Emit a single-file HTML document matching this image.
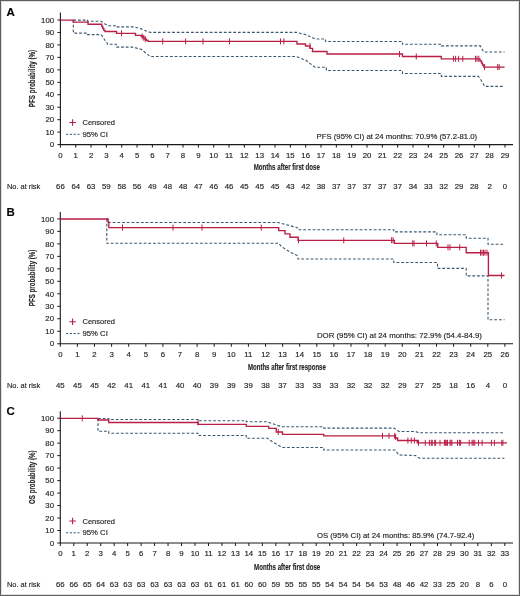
<!DOCTYPE html><html><head><meta charset="utf-8"><style>html,body{margin:0;padding:0;background:#fff;}svg{display:block;font-family:"Liberation Sans", sans-serif;will-change:transform;} text{stroke:#2a2a2a;stroke-width:.16px;}</style></head><body>
<svg width="520" height="596" viewBox="0 0 520 596">
<rect x="0" y="0" width="520" height="596" fill="#fff"/>
<text x="6.6" y="15.8" font-size="10.4" text-anchor="start" font-weight="bold" fill="#000" textLength="8.3" lengthAdjust="spacingAndGlyphs">A</text>
<path d="M60.4 12.4V144.6H513" fill="none" stroke="#1a1a1a" stroke-width="1.1"/>
<text x="54.1" y="147.3" font-size="7.8" text-anchor="end" font-weight="normal" fill="#262626">0</text>
<text x="54.1" y="134.84" font-size="7.8" text-anchor="end" font-weight="normal" fill="#262626">10</text>
<text x="54.1" y="122.38" font-size="7.8" text-anchor="end" font-weight="normal" fill="#262626">20</text>
<text x="54.1" y="109.92" font-size="7.8" text-anchor="end" font-weight="normal" fill="#262626">30</text>
<text x="54.1" y="97.46" font-size="7.8" text-anchor="end" font-weight="normal" fill="#262626">40</text>
<text x="54.1" y="85" font-size="7.8" text-anchor="end" font-weight="normal" fill="#262626">50</text>
<text x="54.1" y="72.54" font-size="7.8" text-anchor="end" font-weight="normal" fill="#262626">60</text>
<text x="54.1" y="60.08" font-size="7.8" text-anchor="end" font-weight="normal" fill="#262626">70</text>
<text x="54.1" y="47.62" font-size="7.8" text-anchor="end" font-weight="normal" fill="#262626">80</text>
<text x="54.1" y="35.16" font-size="7.8" text-anchor="end" font-weight="normal" fill="#262626">90</text>
<text x="54.1" y="22.7" font-size="7.8" text-anchor="end" font-weight="normal" fill="#262626">100</text>
<text x="60.4" y="157.5" font-size="7.8" text-anchor="middle" font-weight="normal" fill="#262626">0</text>
<text x="60.4" y="189.1" font-size="7.8" text-anchor="middle" font-weight="normal" fill="#262626">66</text>
<text x="75.73" y="157.5" font-size="7.8" text-anchor="middle" font-weight="normal" fill="#262626">1</text>
<text x="75.73" y="189.1" font-size="7.8" text-anchor="middle" font-weight="normal" fill="#262626">64</text>
<text x="91.06" y="157.5" font-size="7.8" text-anchor="middle" font-weight="normal" fill="#262626">2</text>
<text x="91.06" y="189.1" font-size="7.8" text-anchor="middle" font-weight="normal" fill="#262626">63</text>
<text x="106.39" y="157.5" font-size="7.8" text-anchor="middle" font-weight="normal" fill="#262626">3</text>
<text x="106.39" y="189.1" font-size="7.8" text-anchor="middle" font-weight="normal" fill="#262626">59</text>
<text x="121.72" y="157.5" font-size="7.8" text-anchor="middle" font-weight="normal" fill="#262626">4</text>
<text x="121.72" y="189.1" font-size="7.8" text-anchor="middle" font-weight="normal" fill="#262626">58</text>
<text x="137.05" y="157.5" font-size="7.8" text-anchor="middle" font-weight="normal" fill="#262626">5</text>
<text x="137.05" y="189.1" font-size="7.8" text-anchor="middle" font-weight="normal" fill="#262626">56</text>
<text x="152.38" y="157.5" font-size="7.8" text-anchor="middle" font-weight="normal" fill="#262626">6</text>
<text x="152.38" y="189.1" font-size="7.8" text-anchor="middle" font-weight="normal" fill="#262626">49</text>
<text x="167.71" y="157.5" font-size="7.8" text-anchor="middle" font-weight="normal" fill="#262626">7</text>
<text x="167.71" y="189.1" font-size="7.8" text-anchor="middle" font-weight="normal" fill="#262626">48</text>
<text x="183.04" y="157.5" font-size="7.8" text-anchor="middle" font-weight="normal" fill="#262626">8</text>
<text x="183.04" y="189.1" font-size="7.8" text-anchor="middle" font-weight="normal" fill="#262626">48</text>
<text x="198.37" y="157.5" font-size="7.8" text-anchor="middle" font-weight="normal" fill="#262626">9</text>
<text x="198.37" y="189.1" font-size="7.8" text-anchor="middle" font-weight="normal" fill="#262626">47</text>
<text x="213.7" y="157.5" font-size="7.8" text-anchor="middle" font-weight="normal" fill="#262626">10</text>
<text x="213.7" y="189.1" font-size="7.8" text-anchor="middle" font-weight="normal" fill="#262626">46</text>
<text x="229.03" y="157.5" font-size="7.8" text-anchor="middle" font-weight="normal" fill="#262626">11</text>
<text x="229.03" y="189.1" font-size="7.8" text-anchor="middle" font-weight="normal" fill="#262626">46</text>
<text x="244.36" y="157.5" font-size="7.8" text-anchor="middle" font-weight="normal" fill="#262626">12</text>
<text x="244.36" y="189.1" font-size="7.8" text-anchor="middle" font-weight="normal" fill="#262626">45</text>
<text x="259.69" y="157.5" font-size="7.8" text-anchor="middle" font-weight="normal" fill="#262626">13</text>
<text x="259.69" y="189.1" font-size="7.8" text-anchor="middle" font-weight="normal" fill="#262626">45</text>
<text x="275.02" y="157.5" font-size="7.8" text-anchor="middle" font-weight="normal" fill="#262626">14</text>
<text x="275.02" y="189.1" font-size="7.8" text-anchor="middle" font-weight="normal" fill="#262626">45</text>
<text x="290.35" y="157.5" font-size="7.8" text-anchor="middle" font-weight="normal" fill="#262626">15</text>
<text x="290.35" y="189.1" font-size="7.8" text-anchor="middle" font-weight="normal" fill="#262626">43</text>
<text x="305.68" y="157.5" font-size="7.8" text-anchor="middle" font-weight="normal" fill="#262626">16</text>
<text x="305.68" y="189.1" font-size="7.8" text-anchor="middle" font-weight="normal" fill="#262626">42</text>
<text x="321.01" y="157.5" font-size="7.8" text-anchor="middle" font-weight="normal" fill="#262626">17</text>
<text x="321.01" y="189.1" font-size="7.8" text-anchor="middle" font-weight="normal" fill="#262626">38</text>
<text x="336.34" y="157.5" font-size="7.8" text-anchor="middle" font-weight="normal" fill="#262626">18</text>
<text x="336.34" y="189.1" font-size="7.8" text-anchor="middle" font-weight="normal" fill="#262626">37</text>
<text x="351.67" y="157.5" font-size="7.8" text-anchor="middle" font-weight="normal" fill="#262626">19</text>
<text x="351.67" y="189.1" font-size="7.8" text-anchor="middle" font-weight="normal" fill="#262626">37</text>
<text x="367" y="157.5" font-size="7.8" text-anchor="middle" font-weight="normal" fill="#262626">20</text>
<text x="367" y="189.1" font-size="7.8" text-anchor="middle" font-weight="normal" fill="#262626">37</text>
<text x="382.33" y="157.5" font-size="7.8" text-anchor="middle" font-weight="normal" fill="#262626">21</text>
<text x="382.33" y="189.1" font-size="7.8" text-anchor="middle" font-weight="normal" fill="#262626">37</text>
<text x="397.66" y="157.5" font-size="7.8" text-anchor="middle" font-weight="normal" fill="#262626">22</text>
<text x="397.66" y="189.1" font-size="7.8" text-anchor="middle" font-weight="normal" fill="#262626">37</text>
<text x="412.99" y="157.5" font-size="7.8" text-anchor="middle" font-weight="normal" fill="#262626">23</text>
<text x="412.99" y="189.1" font-size="7.8" text-anchor="middle" font-weight="normal" fill="#262626">34</text>
<text x="428.32" y="157.5" font-size="7.8" text-anchor="middle" font-weight="normal" fill="#262626">24</text>
<text x="428.32" y="189.1" font-size="7.8" text-anchor="middle" font-weight="normal" fill="#262626">33</text>
<text x="443.65" y="157.5" font-size="7.8" text-anchor="middle" font-weight="normal" fill="#262626">25</text>
<text x="443.65" y="189.1" font-size="7.8" text-anchor="middle" font-weight="normal" fill="#262626">32</text>
<text x="458.98" y="157.5" font-size="7.8" text-anchor="middle" font-weight="normal" fill="#262626">26</text>
<text x="458.98" y="189.1" font-size="7.8" text-anchor="middle" font-weight="normal" fill="#262626">29</text>
<text x="474.31" y="157.5" font-size="7.8" text-anchor="middle" font-weight="normal" fill="#262626">27</text>
<text x="474.31" y="189.1" font-size="7.8" text-anchor="middle" font-weight="normal" fill="#262626">28</text>
<text x="489.64" y="157.5" font-size="7.8" text-anchor="middle" font-weight="normal" fill="#262626">28</text>
<text x="489.64" y="189.1" font-size="7.8" text-anchor="middle" font-weight="normal" fill="#262626">2</text>
<text x="504.97" y="157.5" font-size="7.8" text-anchor="middle" font-weight="normal" fill="#262626">29</text>
<text x="504.97" y="189.1" font-size="7.8" text-anchor="middle" font-weight="normal" fill="#262626">0</text>
<path d="M57.4 144.6H60.4M57.4 132.14H60.4M57.4 119.68H60.4M57.4 107.22H60.4M57.4 94.76H60.4M57.4 82.3H60.4M57.4 69.84H60.4M57.4 57.38H60.4M57.4 44.92H60.4M57.4 32.46H60.4M57.4 20H60.4M60.4 144.6V147.6M75.73 144.6V147.6M91.06 144.6V147.6M106.39 144.6V147.6M121.72 144.6V147.6M137.05 144.6V147.6M152.38 144.6V147.6M167.71 144.6V147.6M183.04 144.6V147.6M198.37 144.6V147.6M213.7 144.6V147.6M229.03 144.6V147.6M244.36 144.6V147.6M259.69 144.6V147.6M275.02 144.6V147.6M290.35 144.6V147.6M305.68 144.6V147.6M321.01 144.6V147.6M336.34 144.6V147.6M351.67 144.6V147.6M367 144.6V147.6M382.33 144.6V147.6M397.66 144.6V147.6M412.99 144.6V147.6M428.32 144.6V147.6M443.65 144.6V147.6M458.98 144.6V147.6M474.31 144.6V147.6M489.64 144.6V147.6M504.97 144.6V147.6" stroke="#1a1a1a" stroke-width="1" fill="none"/>
<text x="0" y="0" font-size="9.6" font-weight="bold" fill="#262626" text-anchor="middle" textLength="57.4" lengthAdjust="spacingAndGlyphs" transform="translate(35.1 78.5) rotate(-90)">PFS probability (%)</text>
<text x="286.8" y="170.3" font-size="9.6" text-anchor="middle" font-weight="bold" fill="#262626" textLength="66.2" lengthAdjust="spacingAndGlyphs">Months after first dose</text>
<text x="6.9" y="189.1" font-size="7.8" text-anchor="start" font-weight="normal" fill="#262626" textLength="33.4" lengthAdjust="spacingAndGlyphs">No. at risk</text>
<text x="316.6" y="139.2" font-size="7.8" text-anchor="start" font-weight="normal" fill="#262626" textLength="160.6" lengthAdjust="spacingAndGlyphs">PFS (95% CI) at 24 months: 70.9% (57.2-81.0)</text>
<path d="M69.3 122.5H75.9M72.6 119.3V125.7" stroke="#b81e46" stroke-width="1.1" fill="none"/>
<text x="82.5" y="125.1" font-size="7.8" text-anchor="start" font-weight="normal" fill="#262626" textLength="32.5" lengthAdjust="spacingAndGlyphs">Censored</text>
<path d="M66 134.3H79.5" stroke="#3a5870" stroke-width="1" stroke-dasharray="2.2 1.6" fill="none"/>
<text x="82.5" y="136.9" font-size="7.8" text-anchor="start" font-weight="normal" fill="#262626" textLength="25.3" lengthAdjust="spacingAndGlyphs">95% CI</text>
<path d="M73.3 20.1 L87.5 20.1 L87.5 21.3 L101 21.3 L103 22.5 L105 24 L108 25.8 L116.3 25.8 L116.3 26.9 L134.5 26.9 L138 28 L141.7 29.1 L144 30 L147 31.3 L150.4 32.4 L296.3 32.4 L301 33.5 L306 34.8 L310 36.5 L315 39 L325.5 39 L325.5 41.5 L402.5 41.5 L402.5 44.3 L441.3 44.3 L441.3 45.9 L480.3 45.9 L482 49 L483.8 52 L504.6 52" fill="none" stroke="#3a5870" stroke-width="1.1" stroke-dasharray="2.8 1.9" stroke-linejoin="miter"/>
<path d="M73.3 20.1 L73.3 33.1 L87.5 33.1 L87.5 34.6 L101 34.6 L103 37 L105 40.5 L107.4 43.4 L107.4 44.3 L116.3 44.3 L116.3 47.1 L133.5 47.1 L137 48.2 L141.3 49.3 L144 51.5 L147 54 L150.4 56.5 L296.3 56.5 L301 58.3 L306 60.3 L310 63.5 L315 67.2 L326.3 67.2 L326.3 70.5 L402.5 70.5 L402.5 73.5 L441.3 73.5 L441.3 76.4 L478.5 76.4 L481 80 L484.6 86.4 L504.6 86.4" fill="none" stroke="#3a5870" stroke-width="1.1" stroke-dasharray="2.8 1.9" stroke-linejoin="miter"/>
<path d="M60.4 20.1 L73.3 20.1 L73.3 22.1 L88 22.1 L88 24.2 L101.8 24.2 L101.8 26.5 L102.8 26.5 L102.8 28.5 L103.8 28.5 L103.8 30.3 L105 30.3 L105 31.5 L116.5 31.5 L116.5 33.4 L135.5 33.4 L135.5 35.3 L141.3 35.3 L141.3 36.5 L143.5 36.5 L143.5 37.8 L145 37.8 L145 39.2 L146.5 39.2 L146.5 40.3 L148 40.3 L148 41.4 L297 41.4 L297 44 L305.5 44 L305.5 46 L310 46 L310 48.3 L312.5 48.3 L312.5 51.5 L327 51.5 L327 54 L402.5 54 L402.5 56.5 L441.3 56.5 L441.3 58.8 L480 58.8 L480 61 L481.5 61 L481.5 63 L482.5 63 L482.5 65 L483.8 65 L483.8 67.1 L504.6 67.1" fill="none" stroke="#b81e46" stroke-width="1.35" stroke-linejoin="miter"/>
<path d="M121.5 30.4V36.4M142.2 33.5V39.5M143.8 34.8V40.8M145.3 36.2V42.2M162.7 38.4V44.4M185.6 38.4V44.4M203 38.4V44.4M229.5 38.4V44.4M280.5 38.4V44.4M283.8 38.4V44.4M310 43V49M399.5 51V57M416.25 53.5V59.5M453.6 55.8V61.8M455.6 55.8V61.8M458.6 55.8V61.8M462.8 55.8V61.8M475.6 55.8V61.8M477 55.8V61.8M478.8 55.8V61.8M484.6 64.1V70.1M497.7 64.1V70.1M499.2 64.1V70.1" stroke="#b81e46" stroke-width="1" fill="none"/>
<text x="6.6" y="215.6" font-size="10.4" text-anchor="start" font-weight="bold" fill="#000" textLength="8.3" lengthAdjust="spacingAndGlyphs">B</text>
<path d="M60.3 212V343.75H513" fill="none" stroke="#1a1a1a" stroke-width="1.1"/>
<text x="54" y="346.45" font-size="7.8" text-anchor="end" font-weight="normal" fill="#262626">0</text>
<text x="54" y="333.96" font-size="7.8" text-anchor="end" font-weight="normal" fill="#262626">10</text>
<text x="54" y="321.48" font-size="7.8" text-anchor="end" font-weight="normal" fill="#262626">20</text>
<text x="54" y="309" font-size="7.8" text-anchor="end" font-weight="normal" fill="#262626">30</text>
<text x="54" y="296.51" font-size="7.8" text-anchor="end" font-weight="normal" fill="#262626">40</text>
<text x="54" y="284.02" font-size="7.8" text-anchor="end" font-weight="normal" fill="#262626">50</text>
<text x="54" y="271.54" font-size="7.8" text-anchor="end" font-weight="normal" fill="#262626">60</text>
<text x="54" y="259.06" font-size="7.8" text-anchor="end" font-weight="normal" fill="#262626">70</text>
<text x="54" y="246.57" font-size="7.8" text-anchor="end" font-weight="normal" fill="#262626">80</text>
<text x="54" y="234.09" font-size="7.8" text-anchor="end" font-weight="normal" fill="#262626">90</text>
<text x="54" y="221.6" font-size="7.8" text-anchor="end" font-weight="normal" fill="#262626">100</text>
<text x="60.3" y="356.65" font-size="7.8" text-anchor="middle" font-weight="normal" fill="#262626">0</text>
<text x="60.3" y="388.25" font-size="7.8" text-anchor="middle" font-weight="normal" fill="#262626">45</text>
<text x="77.4" y="356.65" font-size="7.8" text-anchor="middle" font-weight="normal" fill="#262626">1</text>
<text x="77.4" y="388.25" font-size="7.8" text-anchor="middle" font-weight="normal" fill="#262626">45</text>
<text x="94.5" y="356.65" font-size="7.8" text-anchor="middle" font-weight="normal" fill="#262626">2</text>
<text x="94.5" y="388.25" font-size="7.8" text-anchor="middle" font-weight="normal" fill="#262626">45</text>
<text x="111.6" y="356.65" font-size="7.8" text-anchor="middle" font-weight="normal" fill="#262626">3</text>
<text x="111.6" y="388.25" font-size="7.8" text-anchor="middle" font-weight="normal" fill="#262626">42</text>
<text x="128.7" y="356.65" font-size="7.8" text-anchor="middle" font-weight="normal" fill="#262626">4</text>
<text x="128.7" y="388.25" font-size="7.8" text-anchor="middle" font-weight="normal" fill="#262626">41</text>
<text x="145.8" y="356.65" font-size="7.8" text-anchor="middle" font-weight="normal" fill="#262626">5</text>
<text x="145.8" y="388.25" font-size="7.8" text-anchor="middle" font-weight="normal" fill="#262626">41</text>
<text x="162.9" y="356.65" font-size="7.8" text-anchor="middle" font-weight="normal" fill="#262626">6</text>
<text x="162.9" y="388.25" font-size="7.8" text-anchor="middle" font-weight="normal" fill="#262626">41</text>
<text x="180" y="356.65" font-size="7.8" text-anchor="middle" font-weight="normal" fill="#262626">7</text>
<text x="180" y="388.25" font-size="7.8" text-anchor="middle" font-weight="normal" fill="#262626">40</text>
<text x="197.1" y="356.65" font-size="7.8" text-anchor="middle" font-weight="normal" fill="#262626">8</text>
<text x="197.1" y="388.25" font-size="7.8" text-anchor="middle" font-weight="normal" fill="#262626">40</text>
<text x="214.2" y="356.65" font-size="7.8" text-anchor="middle" font-weight="normal" fill="#262626">9</text>
<text x="214.2" y="388.25" font-size="7.8" text-anchor="middle" font-weight="normal" fill="#262626">39</text>
<text x="231.3" y="356.65" font-size="7.8" text-anchor="middle" font-weight="normal" fill="#262626">10</text>
<text x="231.3" y="388.25" font-size="7.8" text-anchor="middle" font-weight="normal" fill="#262626">39</text>
<text x="248.4" y="356.65" font-size="7.8" text-anchor="middle" font-weight="normal" fill="#262626">11</text>
<text x="248.4" y="388.25" font-size="7.8" text-anchor="middle" font-weight="normal" fill="#262626">39</text>
<text x="265.5" y="356.65" font-size="7.8" text-anchor="middle" font-weight="normal" fill="#262626">12</text>
<text x="265.5" y="388.25" font-size="7.8" text-anchor="middle" font-weight="normal" fill="#262626">38</text>
<text x="282.6" y="356.65" font-size="7.8" text-anchor="middle" font-weight="normal" fill="#262626">13</text>
<text x="282.6" y="388.25" font-size="7.8" text-anchor="middle" font-weight="normal" fill="#262626">37</text>
<text x="299.7" y="356.65" font-size="7.8" text-anchor="middle" font-weight="normal" fill="#262626">14</text>
<text x="299.7" y="388.25" font-size="7.8" text-anchor="middle" font-weight="normal" fill="#262626">33</text>
<text x="316.8" y="356.65" font-size="7.8" text-anchor="middle" font-weight="normal" fill="#262626">15</text>
<text x="316.8" y="388.25" font-size="7.8" text-anchor="middle" font-weight="normal" fill="#262626">33</text>
<text x="333.9" y="356.65" font-size="7.8" text-anchor="middle" font-weight="normal" fill="#262626">16</text>
<text x="333.9" y="388.25" font-size="7.8" text-anchor="middle" font-weight="normal" fill="#262626">33</text>
<text x="351" y="356.65" font-size="7.8" text-anchor="middle" font-weight="normal" fill="#262626">17</text>
<text x="351" y="388.25" font-size="7.8" text-anchor="middle" font-weight="normal" fill="#262626">32</text>
<text x="368.1" y="356.65" font-size="7.8" text-anchor="middle" font-weight="normal" fill="#262626">18</text>
<text x="368.1" y="388.25" font-size="7.8" text-anchor="middle" font-weight="normal" fill="#262626">32</text>
<text x="385.2" y="356.65" font-size="7.8" text-anchor="middle" font-weight="normal" fill="#262626">19</text>
<text x="385.2" y="388.25" font-size="7.8" text-anchor="middle" font-weight="normal" fill="#262626">32</text>
<text x="402.3" y="356.65" font-size="7.8" text-anchor="middle" font-weight="normal" fill="#262626">20</text>
<text x="402.3" y="388.25" font-size="7.8" text-anchor="middle" font-weight="normal" fill="#262626">29</text>
<text x="419.4" y="356.65" font-size="7.8" text-anchor="middle" font-weight="normal" fill="#262626">21</text>
<text x="419.4" y="388.25" font-size="7.8" text-anchor="middle" font-weight="normal" fill="#262626">27</text>
<text x="436.5" y="356.65" font-size="7.8" text-anchor="middle" font-weight="normal" fill="#262626">22</text>
<text x="436.5" y="388.25" font-size="7.8" text-anchor="middle" font-weight="normal" fill="#262626">25</text>
<text x="453.6" y="356.65" font-size="7.8" text-anchor="middle" font-weight="normal" fill="#262626">23</text>
<text x="453.6" y="388.25" font-size="7.8" text-anchor="middle" font-weight="normal" fill="#262626">18</text>
<text x="470.7" y="356.65" font-size="7.8" text-anchor="middle" font-weight="normal" fill="#262626">24</text>
<text x="470.7" y="388.25" font-size="7.8" text-anchor="middle" font-weight="normal" fill="#262626">16</text>
<text x="487.8" y="356.65" font-size="7.8" text-anchor="middle" font-weight="normal" fill="#262626">25</text>
<text x="487.8" y="388.25" font-size="7.8" text-anchor="middle" font-weight="normal" fill="#262626">4</text>
<text x="504.9" y="356.65" font-size="7.8" text-anchor="middle" font-weight="normal" fill="#262626">26</text>
<text x="504.9" y="388.25" font-size="7.8" text-anchor="middle" font-weight="normal" fill="#262626">0</text>
<path d="M57.3 343.75H60.3M57.3 331.26H60.3M57.3 318.78H60.3M57.3 306.3H60.3M57.3 293.81H60.3M57.3 281.32H60.3M57.3 268.84H60.3M57.3 256.36H60.3M57.3 243.87H60.3M57.3 231.39H60.3M57.3 218.9H60.3M60.3 343.75V346.75M77.4 343.75V346.75M94.5 343.75V346.75M111.6 343.75V346.75M128.7 343.75V346.75M145.8 343.75V346.75M162.9 343.75V346.75M180 343.75V346.75M197.1 343.75V346.75M214.2 343.75V346.75M231.3 343.75V346.75M248.4 343.75V346.75M265.5 343.75V346.75M282.6 343.75V346.75M299.7 343.75V346.75M316.8 343.75V346.75M333.9 343.75V346.75M351 343.75V346.75M368.1 343.75V346.75M385.2 343.75V346.75M402.3 343.75V346.75M419.4 343.75V346.75M436.5 343.75V346.75M453.6 343.75V346.75M470.7 343.75V346.75M487.8 343.75V346.75M504.9 343.75V346.75" stroke="#1a1a1a" stroke-width="1" fill="none"/>
<text x="0" y="0" font-size="9.6" font-weight="bold" fill="#262626" text-anchor="middle" textLength="56.6" lengthAdjust="spacingAndGlyphs" transform="translate(35.1 277.9) rotate(-90)">PFS probability (%)</text>
<text x="286.9" y="370" font-size="9.6" text-anchor="middle" font-weight="bold" fill="#262626" textLength="77.8" lengthAdjust="spacingAndGlyphs">Months after first response</text>
<text x="6.9" y="388.25" font-size="7.8" text-anchor="start" font-weight="normal" fill="#262626" textLength="33.4" lengthAdjust="spacingAndGlyphs">No. at risk</text>
<text x="316.9" y="338.35" font-size="7.8" text-anchor="start" font-weight="normal" fill="#262626" textLength="165" lengthAdjust="spacingAndGlyphs">DOR (95% CI) at 24 months: 72.9% (54.4-84.9)</text>
<path d="M69.3 321.75H75.9M72.6 318.55V324.95" stroke="#b81e46" stroke-width="1.1" fill="none"/>
<text x="82.5" y="324.35" font-size="7.8" text-anchor="start" font-weight="normal" fill="#262626" textLength="32.5" lengthAdjust="spacingAndGlyphs">Censored</text>
<path d="M66 333.55H79.5" stroke="#3a5870" stroke-width="1" stroke-dasharray="2.2 1.6" fill="none"/>
<text x="82.5" y="336.15" font-size="7.8" text-anchor="start" font-weight="normal" fill="#262626" textLength="25.3" lengthAdjust="spacingAndGlyphs">95% CI</text>
<path d="M106.8 219 L108 219 L108 222.5 L278 222.5 L297 227.5 L298 229.8 L393.8 229.8 L393.8 231.9 L436.9 231.9 L436.9 234.8 L466.2 234.8 L466.2 238.2 L488 238.2 L488 244.2 L504.5 244.2" fill="none" stroke="#3a5870" stroke-width="1.1" stroke-dasharray="2.8 1.9" stroke-linejoin="miter"/>
<path d="M106.8 219 L106.8 243.3 L278.75 243.3 L281 246 L285 249 L290 252 L294 254 L297.5 255.6 L298 259 L393.8 259 L393.8 262.5 L437.5 262.5 L437.5 268.4 L466.2 268.4 L466.2 275.9 L488 275.9 L488 319.8 L504.5 319.8" fill="none" stroke="#3a5870" stroke-width="1.1" stroke-dasharray="2.8 1.9" stroke-linejoin="miter"/>
<path d="M60.3 219 L108 219 L108 222 L108.8 222 L108.8 227.6 L278.75 227.6 L278.75 230.6 L285 230.6 L285 233.8 L290 233.8 L290 237.2 L298 237.2 L298 240.3 L394.4 240.3 L394.4 243.4 L437.75 243.4 L437.75 247.3 L466.2 247.3 L466.2 252.7 L488.4 252.7 L488.4 275.5 L504.5 275.5" fill="none" stroke="#b81e46" stroke-width="1.35" stroke-linejoin="miter"/>
<path d="M122.5 224.6V230.6M173 224.6V230.6M202 224.6V230.6M261.25 224.6V230.6M298.5 237.3V243.3M343.75 237.3V243.3M391.6 237.3V243.3M393.1 237.3V243.3M412.75 240.4V246.4M414 240.4V246.4M426.5 240.4V246.4M436.25 240.4V246.4M448 244.3V250.3M450 244.3V250.3M459.75 244.3V250.3M480.5 249.7V255.7M482 249.7V255.7M483.5 249.7V255.7M485 249.7V255.7M487 249.7V255.7M501.5 272.5V278.5" stroke="#b81e46" stroke-width="1" fill="none"/>
<text x="6.6" y="414.8" font-size="10.4" text-anchor="start" font-weight="bold" fill="#000" textLength="8.3" lengthAdjust="spacingAndGlyphs">C</text>
<path d="M60.3 411.25V543H513" fill="none" stroke="#1a1a1a" stroke-width="1.1"/>
<text x="54" y="545.7" font-size="7.8" text-anchor="end" font-weight="normal" fill="#262626">0</text>
<text x="54" y="533.22" font-size="7.8" text-anchor="end" font-weight="normal" fill="#262626">10</text>
<text x="54" y="520.74" font-size="7.8" text-anchor="end" font-weight="normal" fill="#262626">20</text>
<text x="54" y="508.26" font-size="7.8" text-anchor="end" font-weight="normal" fill="#262626">30</text>
<text x="54" y="495.78" font-size="7.8" text-anchor="end" font-weight="normal" fill="#262626">40</text>
<text x="54" y="483.3" font-size="7.8" text-anchor="end" font-weight="normal" fill="#262626">50</text>
<text x="54" y="470.82" font-size="7.8" text-anchor="end" font-weight="normal" fill="#262626">60</text>
<text x="54" y="458.34" font-size="7.8" text-anchor="end" font-weight="normal" fill="#262626">70</text>
<text x="54" y="445.86" font-size="7.8" text-anchor="end" font-weight="normal" fill="#262626">80</text>
<text x="54" y="433.38" font-size="7.8" text-anchor="end" font-weight="normal" fill="#262626">90</text>
<text x="54" y="420.9" font-size="7.8" text-anchor="end" font-weight="normal" fill="#262626">100</text>
<text x="60.3" y="555.9" font-size="7.8" text-anchor="middle" font-weight="normal" fill="#262626">0</text>
<text x="60.3" y="586.5" font-size="7.8" text-anchor="middle" font-weight="normal" fill="#262626">66</text>
<text x="73.77" y="555.9" font-size="7.8" text-anchor="middle" font-weight="normal" fill="#262626">1</text>
<text x="73.77" y="586.5" font-size="7.8" text-anchor="middle" font-weight="normal" fill="#262626">66</text>
<text x="87.24" y="555.9" font-size="7.8" text-anchor="middle" font-weight="normal" fill="#262626">2</text>
<text x="87.24" y="586.5" font-size="7.8" text-anchor="middle" font-weight="normal" fill="#262626">65</text>
<text x="100.71" y="555.9" font-size="7.8" text-anchor="middle" font-weight="normal" fill="#262626">3</text>
<text x="100.71" y="586.5" font-size="7.8" text-anchor="middle" font-weight="normal" fill="#262626">64</text>
<text x="114.18" y="555.9" font-size="7.8" text-anchor="middle" font-weight="normal" fill="#262626">4</text>
<text x="114.18" y="586.5" font-size="7.8" text-anchor="middle" font-weight="normal" fill="#262626">63</text>
<text x="127.65" y="555.9" font-size="7.8" text-anchor="middle" font-weight="normal" fill="#262626">5</text>
<text x="127.65" y="586.5" font-size="7.8" text-anchor="middle" font-weight="normal" fill="#262626">63</text>
<text x="141.12" y="555.9" font-size="7.8" text-anchor="middle" font-weight="normal" fill="#262626">6</text>
<text x="141.12" y="586.5" font-size="7.8" text-anchor="middle" font-weight="normal" fill="#262626">63</text>
<text x="154.59" y="555.9" font-size="7.8" text-anchor="middle" font-weight="normal" fill="#262626">7</text>
<text x="154.59" y="586.5" font-size="7.8" text-anchor="middle" font-weight="normal" fill="#262626">63</text>
<text x="168.06" y="555.9" font-size="7.8" text-anchor="middle" font-weight="normal" fill="#262626">8</text>
<text x="168.06" y="586.5" font-size="7.8" text-anchor="middle" font-weight="normal" fill="#262626">63</text>
<text x="181.53" y="555.9" font-size="7.8" text-anchor="middle" font-weight="normal" fill="#262626">9</text>
<text x="181.53" y="586.5" font-size="7.8" text-anchor="middle" font-weight="normal" fill="#262626">63</text>
<text x="195" y="555.9" font-size="7.8" text-anchor="middle" font-weight="normal" fill="#262626">10</text>
<text x="195" y="586.5" font-size="7.8" text-anchor="middle" font-weight="normal" fill="#262626">63</text>
<text x="208.47" y="555.9" font-size="7.8" text-anchor="middle" font-weight="normal" fill="#262626">11</text>
<text x="208.47" y="586.5" font-size="7.8" text-anchor="middle" font-weight="normal" fill="#262626">61</text>
<text x="221.94" y="555.9" font-size="7.8" text-anchor="middle" font-weight="normal" fill="#262626">12</text>
<text x="221.94" y="586.5" font-size="7.8" text-anchor="middle" font-weight="normal" fill="#262626">61</text>
<text x="235.41" y="555.9" font-size="7.8" text-anchor="middle" font-weight="normal" fill="#262626">13</text>
<text x="235.41" y="586.5" font-size="7.8" text-anchor="middle" font-weight="normal" fill="#262626">61</text>
<text x="248.88" y="555.9" font-size="7.8" text-anchor="middle" font-weight="normal" fill="#262626">14</text>
<text x="248.88" y="586.5" font-size="7.8" text-anchor="middle" font-weight="normal" fill="#262626">60</text>
<text x="262.35" y="555.9" font-size="7.8" text-anchor="middle" font-weight="normal" fill="#262626">15</text>
<text x="262.35" y="586.5" font-size="7.8" text-anchor="middle" font-weight="normal" fill="#262626">60</text>
<text x="275.82" y="555.9" font-size="7.8" text-anchor="middle" font-weight="normal" fill="#262626">16</text>
<text x="275.82" y="586.5" font-size="7.8" text-anchor="middle" font-weight="normal" fill="#262626">59</text>
<text x="289.29" y="555.9" font-size="7.8" text-anchor="middle" font-weight="normal" fill="#262626">17</text>
<text x="289.29" y="586.5" font-size="7.8" text-anchor="middle" font-weight="normal" fill="#262626">55</text>
<text x="302.76" y="555.9" font-size="7.8" text-anchor="middle" font-weight="normal" fill="#262626">18</text>
<text x="302.76" y="586.5" font-size="7.8" text-anchor="middle" font-weight="normal" fill="#262626">55</text>
<text x="316.23" y="555.9" font-size="7.8" text-anchor="middle" font-weight="normal" fill="#262626">19</text>
<text x="316.23" y="586.5" font-size="7.8" text-anchor="middle" font-weight="normal" fill="#262626">55</text>
<text x="329.7" y="555.9" font-size="7.8" text-anchor="middle" font-weight="normal" fill="#262626">20</text>
<text x="329.7" y="586.5" font-size="7.8" text-anchor="middle" font-weight="normal" fill="#262626">54</text>
<text x="343.17" y="555.9" font-size="7.8" text-anchor="middle" font-weight="normal" fill="#262626">21</text>
<text x="343.17" y="586.5" font-size="7.8" text-anchor="middle" font-weight="normal" fill="#262626">54</text>
<text x="356.64" y="555.9" font-size="7.8" text-anchor="middle" font-weight="normal" fill="#262626">22</text>
<text x="356.64" y="586.5" font-size="7.8" text-anchor="middle" font-weight="normal" fill="#262626">54</text>
<text x="370.11" y="555.9" font-size="7.8" text-anchor="middle" font-weight="normal" fill="#262626">23</text>
<text x="370.11" y="586.5" font-size="7.8" text-anchor="middle" font-weight="normal" fill="#262626">54</text>
<text x="383.58" y="555.9" font-size="7.8" text-anchor="middle" font-weight="normal" fill="#262626">24</text>
<text x="383.58" y="586.5" font-size="7.8" text-anchor="middle" font-weight="normal" fill="#262626">53</text>
<text x="397.05" y="555.9" font-size="7.8" text-anchor="middle" font-weight="normal" fill="#262626">25</text>
<text x="397.05" y="586.5" font-size="7.8" text-anchor="middle" font-weight="normal" fill="#262626">48</text>
<text x="410.52" y="555.9" font-size="7.8" text-anchor="middle" font-weight="normal" fill="#262626">26</text>
<text x="410.52" y="586.5" font-size="7.8" text-anchor="middle" font-weight="normal" fill="#262626">46</text>
<text x="423.99" y="555.9" font-size="7.8" text-anchor="middle" font-weight="normal" fill="#262626">27</text>
<text x="423.99" y="586.5" font-size="7.8" text-anchor="middle" font-weight="normal" fill="#262626">42</text>
<text x="437.46" y="555.9" font-size="7.8" text-anchor="middle" font-weight="normal" fill="#262626">28</text>
<text x="437.46" y="586.5" font-size="7.8" text-anchor="middle" font-weight="normal" fill="#262626">33</text>
<text x="450.93" y="555.9" font-size="7.8" text-anchor="middle" font-weight="normal" fill="#262626">29</text>
<text x="450.93" y="586.5" font-size="7.8" text-anchor="middle" font-weight="normal" fill="#262626">25</text>
<text x="464.4" y="555.9" font-size="7.8" text-anchor="middle" font-weight="normal" fill="#262626">30</text>
<text x="464.4" y="586.5" font-size="7.8" text-anchor="middle" font-weight="normal" fill="#262626">20</text>
<text x="477.87" y="555.9" font-size="7.8" text-anchor="middle" font-weight="normal" fill="#262626">31</text>
<text x="477.87" y="586.5" font-size="7.8" text-anchor="middle" font-weight="normal" fill="#262626">8</text>
<text x="491.34" y="555.9" font-size="7.8" text-anchor="middle" font-weight="normal" fill="#262626">32</text>
<text x="491.34" y="586.5" font-size="7.8" text-anchor="middle" font-weight="normal" fill="#262626">6</text>
<text x="504.81" y="555.9" font-size="7.8" text-anchor="middle" font-weight="normal" fill="#262626">33</text>
<text x="504.81" y="586.5" font-size="7.8" text-anchor="middle" font-weight="normal" fill="#262626">0</text>
<path d="M57.3 543H60.3M57.3 530.52H60.3M57.3 518.04H60.3M57.3 505.56H60.3M57.3 493.08H60.3M57.3 480.6H60.3M57.3 468.12H60.3M57.3 455.64H60.3M57.3 443.16H60.3M57.3 430.68H60.3M57.3 418.2H60.3M60.3 543V546M73.77 543V546M87.24 543V546M100.71 543V546M114.18 543V546M127.65 543V546M141.12 543V546M154.59 543V546M168.06 543V546M181.53 543V546M195 543V546M208.47 543V546M221.94 543V546M235.41 543V546M248.88 543V546M262.35 543V546M275.82 543V546M289.29 543V546M302.76 543V546M316.23 543V546M329.7 543V546M343.17 543V546M356.64 543V546M370.11 543V546M383.58 543V546M397.05 543V546M410.52 543V546M423.99 543V546M437.46 543V546M450.93 543V546M464.4 543V546M477.87 543V546M491.34 543V546M504.81 543V546" stroke="#1a1a1a" stroke-width="1" fill="none"/>
<text x="0" y="0" font-size="9.6" font-weight="bold" fill="#262626" text-anchor="middle" textLength="53.6" lengthAdjust="spacingAndGlyphs" transform="translate(35.1 477.2) rotate(-90)">OS probability (%)</text>
<text x="287.2" y="569.5" font-size="9.6" text-anchor="middle" font-weight="bold" fill="#262626" textLength="66.2" lengthAdjust="spacingAndGlyphs">Months after first dose</text>
<text x="6.9" y="586.5" font-size="7.8" text-anchor="start" font-weight="normal" fill="#262626" textLength="33.4" lengthAdjust="spacingAndGlyphs">No. at risk</text>
<text x="316.9" y="537.6" font-size="7.8" text-anchor="start" font-weight="normal" fill="#262626" textLength="157.5" lengthAdjust="spacingAndGlyphs">OS (95% CI) at 24 months: 85.9% (74.7-92.4)</text>
<path d="M69.3 521H75.9M72.6 517.8V524.2" stroke="#b81e46" stroke-width="1.1" fill="none"/>
<text x="82.5" y="523.6" font-size="7.8" text-anchor="start" font-weight="normal" fill="#262626" textLength="32.5" lengthAdjust="spacingAndGlyphs">Censored</text>
<path d="M66 532.8H79.5" stroke="#3a5870" stroke-width="1" stroke-dasharray="2.2 1.6" fill="none"/>
<text x="82.5" y="535.4" font-size="7.8" text-anchor="start" font-weight="normal" fill="#262626" textLength="25.3" lengthAdjust="spacingAndGlyphs">95% CI</text>
<path d="M98 418.5 L108.75 418.5 L108.75 419.5 L198 419.5 L198 420.8 L246.25 420.8 L246.25 421.8 L267.5 421.8 L272 423.5 L277 425.3 L282.5 426.8 L323.75 426.8 L323.75 428.1 L394.2 428.1 L396.5 430 L399 431.5 L415.4 431.5 L418 432.5 L420.2 432.8 L504.4 432.8" fill="none" stroke="#3a5870" stroke-width="1.1" stroke-dasharray="2.8 1.9" stroke-linejoin="miter"/>
<path d="M98 418.5 L98 431.3 L108.75 431.3 L108.75 433.3 L198 433.3 L198 435.5 L246.25 435.5 L246.25 438.3 L267.5 438.3 L272 441.5 L277 444.5 L282.5 447.5 L323.75 447.5 L323.75 450 L395 450 L397 452.5 L398.75 455 L415.5 455.5 L418 457.2 L419.6 458.2 L504.4 458.2" fill="none" stroke="#3a5870" stroke-width="1.1" stroke-dasharray="2.8 1.9" stroke-linejoin="miter"/>
<path d="M60.3 418.3 L98 418.3 L98 420 L108.75 420 L108.75 422.5 L198 422.5 L198 424.3 L246.25 424.3 L246.25 426.3 L268.75 426.3 L268.75 428.3 L276.25 428.3 L276.25 432 L282.5 432 L282.5 434.3 L323.75 434.3 L323.75 435.8 L395.2 435.8 L395.2 438 L397.6 438 L397.6 440.5 L417.3 440.5 L417.3 442.8 L507 442.8" fill="none" stroke="#b81e46" stroke-width="1.35" stroke-linejoin="miter"/>
<path d="M82.25 415.3V421.3M198 419.5V425.5M278.25 429V435M382.5 432.8V438.8M389 432.8V438.8M394.7 432.8V438.8M395.7 434V440M407.9 437.5V443.5M411.3 437.5V443.5M414.4 437.5V443.5M418.5 439.8V445.8M425.25 439.8V445.8M429.4 439.8V445.8M431.25 439.8V445.8M432.25 439.8V445.8M434.75 439.8V445.8M435.6 439.8V445.8M440 439.8V445.8M444.4 439.8V445.8M445.4 439.8V445.8M446.25 439.8V445.8M447.5 439.8V445.8M450 439.8V445.8M451 439.8V445.8M451.9 439.8V445.8M457.5 439.8V445.8M459.4 439.8V445.8M460.6 439.8V445.8M469.2 439.8V445.8M472.1 439.8V445.8M473.3 439.8V445.8M474.8 439.8V445.8M478.5 439.8V445.8M482.1 439.8V445.8M491.4 439.8V445.8M494.4 439.8V445.8M501.75 439.8V445.8M502.9 439.8V445.8" stroke="#b81e46" stroke-width="1" fill="none"/>
<rect x="1.5" y="1.5" width="517" height="593" fill="none" stroke="#e2e2e2" stroke-width="1"/>
<rect x="0.5" y="0.5" width="519" height="595" fill="none" stroke="#5c5c5c" stroke-width="1"/>
</svg></body></html>
